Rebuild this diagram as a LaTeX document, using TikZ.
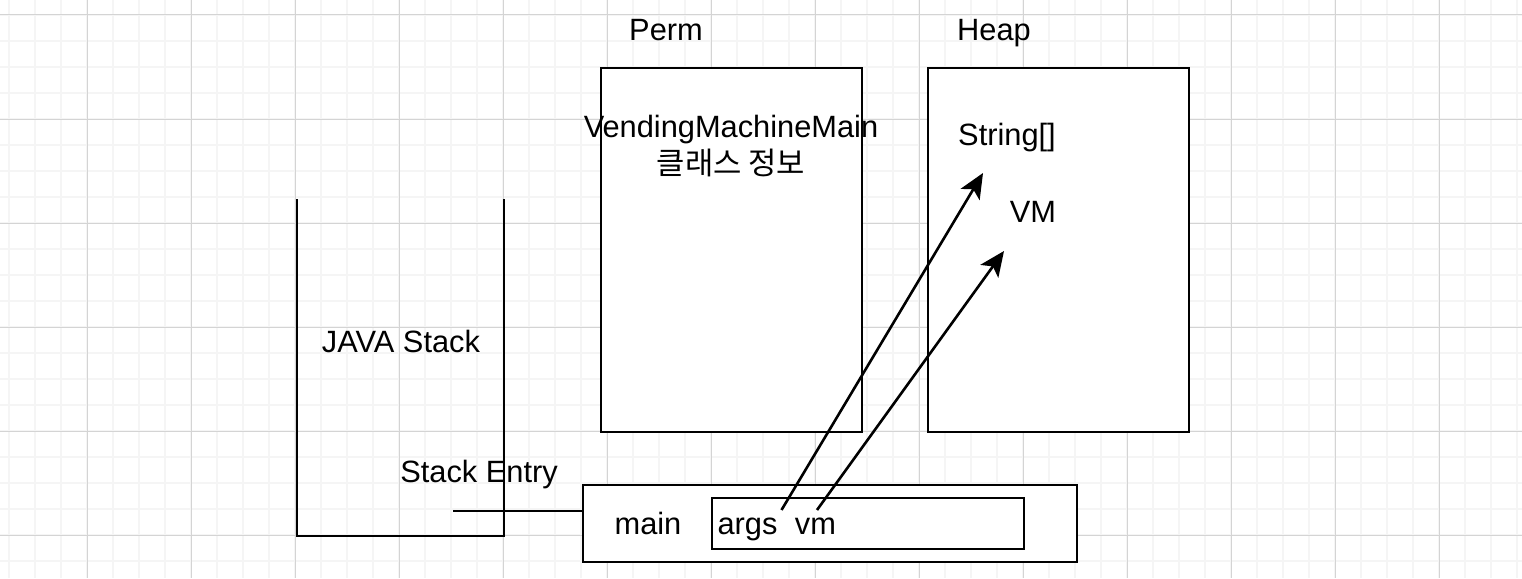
\documentclass[tikz,border=0pt]{standalone}
\usepackage{fontspec}
\setmainfont{Liberation Sans}
\newfontfamily\krfont{Noto Sans CJK KR}
\usetikzlibrary{arrows.meta}
\definecolor{gridminor}{RGB}{245,245,245}
\definecolor{gridmajor}{RGB}{212,212,212}
\tikzset{
  lbl/.style={anchor=base, inner sep=0pt, font=\fontsize{30.8}{36}\selectfont},
  box/.style={draw=black, fill=white, line width=2.6pt, inner sep=0pt},
  wire/.style={draw=black, line width=2.6pt},
  ptr/.style={draw=black, line width=2.6pt, -{Stealth[length=25pt,width=22pt,inset=6pt]}},
}
\begin{document}
\begin{tikzpicture}[x=1pt,y=-1pt]
\useasboundingbox (0,0) rectangle (1522,578);
\fill[white] (0,0) rectangle (1522,578);
% grid
\foreach \i in {0,...,58} {
  \draw[gridminor, line width=2pt] ({9+26*\i},0) -- ({9+26*\i},578);
}
\foreach \j in {0,...,21} {
  \draw[gridminor, line width=2pt] (0,{15+26*\j}) -- (1522,{15+26*\j});
}
\foreach \i in {0,...,13} {
  \draw[gridmajor, line width=1pt] ({87+104*\i},0) -- ({87+104*\i},578);
}
\foreach \j in {0,...,5} {
  \draw[gridmajor, line width=1pt] (0,{15+104*\j}) -- (1522,{15+104*\j});
}
% JAVA stack (open container)
\draw[wire] (297,199) -- (297,536) -- (504,536) -- (504,199);
\node[lbl] (javastack) at (401,352) {JAVA Stack};
% Perm
\node[lbl] (permlbl) at (666,40.7) {Perm};
\node[box, minimum width=261pt, minimum height=364pt] (perm) at (731.5,250) {};
\node[lbl] (vmm) at (731,137) {VendingMachineMain};
\node[lbl, font=\fontsize{30.8}{36}\krfont] (classinfo) at (731,174) {클래스 정보};
% Heap
\node[lbl] (heaplbl) at (994,40.7) {Heap};
\node[box, minimum width=261pt, minimum height=364pt] (heap) at (1058.5,250) {};
\node[lbl] (strarr) at (1007,145) {String[]};
\node[lbl] (vmobj) at (1033,222) {VM};
% Stack entry
\node[lbl] (entrylbl) at (479,482) {Stack Entry};
\node[box, minimum width=494pt, minimum height=77pt] (entry) at (830,523.5) {};
\node[lbl] (mainlbl) at (648,534) {main};
\node[box, minimum width=312pt, minimum height=51pt] (locals) at (868,523.5) {};
\node[lbl] (argslbl) at (747.5,534) {args};
\node[lbl] (vmlbl) at (815.5,534) {vm};
% connectors
\coordinate (stackend) at (453,511);
\draw[wire] (stackend) -- (stackend -| entry.west);
\coordinate (argsfrom) at (781.5,510);
\coordinate (strtip) at (983,173);
\coordinate (vmfrom) at (817,510);
\coordinate (vmtip) at (1004,251);
\draw[ptr] (argsfrom) -- (strtip);
\draw[ptr] (vmfrom) -- (vmtip);
\end{tikzpicture}
\end{document}
